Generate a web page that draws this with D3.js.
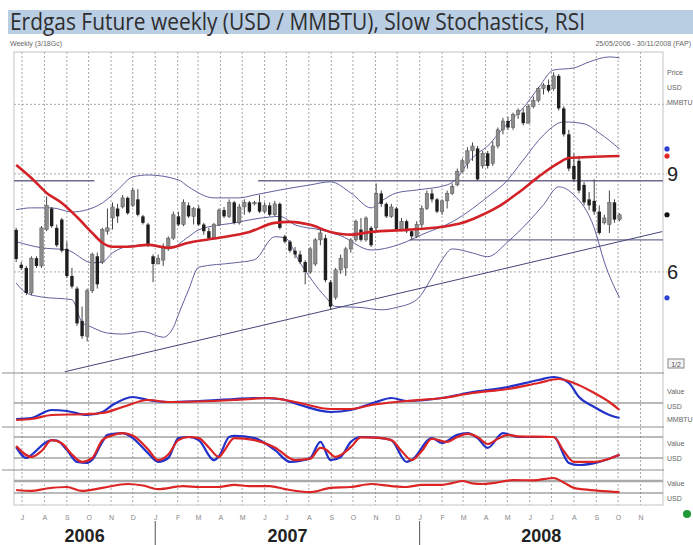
<!DOCTYPE html>
<html>
<head>
<meta charset="utf-8">
<script src="https://cdn.jsdelivr.net/npm/d3@7"></script>
<style>
  body { margin: 0; background: #fff; }
  svg { display: block; }
</style>
</head>
<body>
<div id="chart"></div>
<script>
// weekly candles, first week ending 23 Jun 2006: [open, high, low, close]
const candles = [
  [7.14,7.2,6.25,6.33],[6.18,6.25,6.05,6.1],[6.1,6.15,5.45,5.5],[5.5,6.4,5.45,6.35],[6.35,6.4,6.1,6.15],
  [6.15,7.25,6.1,7.2],[7.15,8.2,7.1,7.9],[7.8,7.85,7.2,7.25],[7.2,7.3,6.65,6.7],[7.45,7.5,6.5,6.55],
  [6.6,6.8,5.85,5.9],[5.9,6.1,5.6,5.65],[5.6,5.65,4.8,4.85],[4.9,5.2,4.55,4.6],[4.6,5.6,4.5,5.55],
  [5.55,6.5,5.5,6.45],[6.4,6.5,5.6,5.7],[6.25,7.2,6.2,7.15],[7.1,7.8,7.0,7.2],[7.5,8.0,7.15,7.85],
  [7.8,7.95,7.35,7.55],[7.85,8.25,7.8,8.15],[8.15,8.2,7.6,7.65],[7.9,8.5,7.85,8.4],[8.1,8.45,7.55,7.6],
  [7.55,7.6,7.3,7.35],[7.3,7.35,6.65,6.7],[6.4,6.45,5.75,6.2],[6.2,6.45,6.2,6.35],[6.3,6.75,6.15,6.65],
  [6.65,6.95,6.55,6.9],[6.9,7.7,6.85,7.6],[7.55,7.7,7.25,7.3],[7.3,8.1,7.25,8.0],[7.9,8.0,7.5,7.55],
  [7.55,7.85,7.3,7.8],[7.8,7.9,7.25,7.3],[7.3,7.35,7.0,7.1],[7.1,7.2,6.85,6.9],[6.9,7.35,6.85,7.3],
  [7.3,7.8,7.25,7.75],[7.75,7.85,7.5,7.55],[7.55,8.1,7.5,8.0],[8.0,8.05,7.3,7.35],[7.35,7.95,7.3,7.85],
  [7.85,8.1,7.6,8.0],[8.0,8.05,7.65,7.7],[7.95,8.05,7.9,8.0],[8.0,8.25,7.65,7.7],[7.7,8.0,7.65,7.9],
  [7.9,8.0,7.55,7.6],[7.6,8.05,7.55,7.95],[7.95,8.0,7.15,7.2],[6.95,7.0,6.75,6.8],[6.8,6.85,6.5,6.55],
  [6.55,6.65,6.35,6.45],[6.45,6.55,6.2,6.25],[6.25,6.3,5.7,6.0],[6.0,6.65,5.95,6.6],[6.2,6.9,6.15,6.85],
  [6.85,7.2,6.7,7.05],[6.9,7.0,5.75,5.8],[5.75,5.8,5.13,5.2],[5.4,6.1,5.35,6.05],[6.05,6.45,5.95,6.35],
  [6.1,6.65,5.9,6.6],[6.6,6.9,6.5,6.85],[6.85,7.45,6.8,7.4],[7.15,7.5,6.8,6.85],[6.85,7.55,6.8,7.5],
  [7.2,7.25,6.65,6.7],[7.2,8.65,7.1,8.3],[8.3,8.4,7.85,7.95],[7.95,8.0,7.5,7.55],[7.55,7.95,7.5,7.85],
  [7.8,7.85,7.1,7.15],[7.15,7.5,7.1,7.4],[7.4,7.45,7.05,7.1],[7.1,7.15,6.85,6.95],[6.95,7.4,6.9,7.3],
  [7.3,7.9,7.2,7.8],[7.8,8.4,7.75,8.3],[8.3,8.45,8.0,8.1],[8.1,8.15,7.65,7.7],[7.7,8.1,7.6,8.05],
  [8.05,8.4,7.8,8.3],[8.3,8.65,8.25,8.55],[8.6,9.2,8.55,9.1],[9.1,9.6,9.05,9.5],[9.4,10.05,9.2,9.9],
  [9.9,10.25,9.5,10.1],[10.0,10.1,8.75,8.8],[9.3,9.9,9.2,9.8],[9.8,9.9,9.2,9.3],[9.4,10.3,9.3,10.1],
  [10.1,10.9,10.0,10.8],[10.8,11.35,10.6,11.2],[11.2,11.4,10.8,10.9],[10.9,11.6,10.8,11.5],[11.5,11.8,11.3,11.7],
  [11.6,11.8,11.0,11.1],[11.1,12.0,11.1,11.9],[11.9,12.4,11.8,12.2],[12.2,12.9,12.1,12.8],[12.8,13.1,12.5,13.0],
  [13.0,13.3,12.6,12.7],[12.8,13.7,12.7,13.5],[13.5,13.6,11.7,11.8],[11.8,11.9,10.5,10.6],[10.6,10.8,9.1,9.2],
  [9.3,9.8,8.7,8.8],[9.5,9.7,8.3,8.4],[8.6,8.7,7.9,8.0],[8.1,8.35,7.75,7.9],[8.05,8.8,7.6,7.7],
  [7.7,7.9,7.0,7.05],[7.35,7.6,7.3,7.5],[7.3,8.4,7.05,8.0],[8.0,8.1,7.35,7.45],[7.45,7.65,7.4,7.6]
];

// indicator lines: [week index, value]
const bbUpper = [[0,7.76],[3,7.82],[7,7.82],[11,7.69],[14,7.76],[17,7.98],[20,8.42],[23,8.89],[26,8.96],[32,8.78],[34,8.53],[39,8.15],[44,8.15],[47,8.25],[52,8.42],[58,8.6],[62,8.71],[66,8.32],[70,7.82],[72,8.04],[75,8.32],[79,8.42],[85,8.6],[87,8.85],[89,9.4],[91,9.8],[93,10.1],[95,10.6],[97,11.1],[100,11.82],[103,12.84],[106,13.83],[110,13.95],[113,14.3],[117,14.6],[119,14.54]];
const bbMiddle = [[0,6.8],[5,6.63],[10,6.57],[15,6.23],[17,6.25],[19,6.49],[23,6.69],[26,6.71],[30,6.6],[34,6.94],[36,7.14],[43,7.35],[50,7.53],[52,7.55],[55,7.29],[60,7.14],[64,6.97],[70,6.57],[77,6.8],[80,7.0],[86,7.38],[94,8.32],[96,8.6],[100,9.53],[104,10.57],[108,11.16],[112,11.07],[115,10.66],[119,9.98]];
const bbLower = [[0,5.73],[2,5.5],[5,5.41],[11,5.35],[13,4.87],[15,4.77],[18,4.66],[21,4.64],[25,4.69],[29,4.58],[31,4.77],[32,5.03],[34,5.57],[36,6.12],[43,6.23],[47,6.31],[51,6.94],[53,6.91],[56,6.23],[61,5.41],[63,5.2],[68,5.18],[72,5.13],[75,5.18],[79,5.35],[82,5.87],[84,6.31],[86,6.6],[90,6.49],[93,6.39],[97,6.8],[101,7.38],[104,7.92],[107,8.53],[110,8.25],[114,7.2],[116,6.25],[119,5.39]];
const movAvg = [[0,9.34],[3,8.85],[6,8.32],[9,7.98],[12,7.53],[15,7.05],[17,6.77],[19,6.66],[22,6.66],[26,6.71],[30,6.63],[34,6.77],[40,6.91],[46,7.08],[51,7.35],[54,7.38],[58,7.29],[62,7.08],[66,7.0],[70,7.08],[77,7.14],[84,7.23],[88,7.35],[91,7.53],[95,7.85],[99,8.32],[103,8.89],[107,9.42],[109,9.61],[113,9.65],[119,9.69]];

const valBlue = [[0,8],[3,9],[7,17],[10,16],[14,12],[17,15],[19,22],[23,30],[26,27],[30,25],[36,26],[43,28],[47,29],[52,28],[56,22],[62,15],[66,17],[68,20],[71,25],[74,29],[77,26],[84,29],[90,35],[97,40],[103,47],[106,50],[109,44],[111,30],[114,20],[117,12],[119,9]];
const valRed = [[0,7],[3,8],[7,12],[14,13],[17,14],[21,20],[26,27],[30,25],[43,27],[50,29],[53,27],[56,24],[62,18],[66,18],[70,22],[77,26],[84,29],[90,34],[97,38],[103,44],[107,48],[110,44],[114,34],[117,25],[119,17]];

const stochK = [[0,51],[2,20],[3,29],[6,66],[7,71],[8,70],[10,43],[12,9],[14,6],[15,15],[17,66],[18,86],[21,91],[23,77],[26,34],[28,9],[30,20],[32,77],[34,80],[36,71],[39,14],[40,25],[42,80],[43,83],[47,77],[51,43],[54,9],[56,12],[58,20],[60,66],[62,14],[64,23],[66,66],[68,80],[72,77],[74,71],[77,9],[78,14],[82,77],[84,63],[87,86],[89,91],[91,77],[93,49],[96,91],[99,80],[106,80],[109,6],[111,0],[115,9],[119,29]];
const stochD = [[0,54],[3,23],[5,40],[7,71],[9,62],[11,30],[13,9],[15,20],[17,71],[19,85],[21,91],[23,84],[26,45],[28,14],[30,30],[32,71],[34,80],[36,77],[38,50],[40,23],[41,40],[43,77],[47,71],[51,50],[55,14],[58,18],[60,49],[61,45],[63,23],[66,51],[68,79],[71,78],[74,71],[76,40],[78,14],[80,40],[82,75],[85,66],[87,80],[89,89],[91,80],[93,60],[95,75],[97,86],[99,82],[106,80],[108,40],[110,9],[114,9],[117,18],[119,29]];

const rsi = [[0,40],[3,37],[6,45],[10,50],[13,37],[17,47],[22,60],[25,55],[28,43],[33,53],[36,50],[40,50],[43,57],[46,53],[50,53],[53,43],[58,33],[62,47],[66,50],[70,60],[74,53],[77,50],[80,57],[84,57],[86,63],[88,70],[90,62],[92,60],[94,63],[98,73],[102,72],[106,80],[108,65],[110,47],[112,42],[115,37],[119,33]];

// trend line and horizontal levels
const trendLine = [["2006-08-29", 3.97], ["2008-12-01", 7.09]];
const levels = [
  {from: "2006-06-20", to: "2006-10-09", price: 8.75},
  {from: "2007-05-23", to: "2008-12-02", price: 8.75},
  {from: "2007-12-18", to: "2008-12-02", price: 6.85}
];
const priceTicks = [6, 9];
const priceGrid = [6, 9, 12];
const monthLetters = ["J","A","S","O","N","D","J","F","M","A","M","J","J","A","S","O","N","D","J","F","M","A","M","J","J","A","S","O","N"];
const years = [2006, 2007, 2008];

const W = 693, H = 545;
const svg = d3.select("#chart").append("svg").attr("width", W).attr("height", H)
  .style("font-family", "'Liberation Sans', Arial, sans-serif");

const parse = d3.timeParse("%Y-%m-%d");
const start = new Date(2006, 5, 20), end = new Date(2008, 11, 2);
const x = d3.scaleTime().domain([start, end]).range([14, 663]);
const weekDate = i => new Date(2006, 5, 23 + 7 * i);
const y = d3.scaleLog().domain([3.95, 14.9]).range([373, 52]);
const y2 = d3.scaleLinear().domain([0, 54]).range([427, 373]);
const y3 = d3.scaleLinear().domain([0, 100]).range([465, 430]);
const y4 = d3.scaleLinear().domain([0, 100]).range([502, 472]);

// title bar
svg.append("rect").attr("x", 8).attr("y", 10).attr("width", 685).attr("height", 24).attr("fill", "#b9cde3");
svg.append("text").attr("x", 10).attr("y", 30).attr("font-family", "'Open Sans', sans-serif")
  .attr("font-size", 23).attr("fill", "#2e2e2e").attr("textLength", 575).attr("lengthAdjust", "spacingAndGlyphs")
  .text("Erdgas Future weekly (USD / MMBTU), Slow Stochastics, RSI");
svg.append("text").attr("x", 10).attr("y", 46).attr("font-size", 7).attr("fill", "#666").text("Weekly (3/18Gc)");
svg.append("text").attr("x", 691).attr("y", 46).attr("font-size", 7).attr("fill", "#666")
  .attr("text-anchor", "end").text("25/05/2006 - 30/11/2008 (FAP)");

// grid
const months = d3.timeMonth.range(new Date(2006, 6, 1), new Date(2008, 11, 1));
svg.append("g").selectAll("line").data(months).join("line")
  .attr("x1", d => x(d)).attr("x2", d => x(d)).attr("y1", 52).attr("y2", 505)
  .attr("stroke", "#a8a8a8").attr("stroke-dasharray", "2,2");
svg.append("g").selectAll("line").data(priceGrid).join("line")
  .attr("x1", 14).attr("x2", 667).attr("y1", d => y(d)).attr("y2", d => y(d))
  .attr("stroke", "#a8a8a8").attr("stroke-dasharray", "2,2");

// panel frame and separators
svg.append("rect").attr("x", 14).attr("y", 52).attr("width", 649).attr("height", 453)
  .attr("fill", "none").attr("stroke", "#c4c4c4");
[y(y.domain()[0]), y2(0), y3(0) + 5].forEach(v => {
  svg.append("line").attr("x1", 2).attr("x2", 664).attr("y1", v).attr("y2", v).attr("stroke", "#8e8e8e");
});
const refLines = [[y2, 24], [y3, 80], [y3, 20], [y4, 70], [y4, 30]];
refLines.forEach(([s, v], i) => {
  svg.append("line").attr("x1", 14).attr("x2", 663).attr("y1", s(v)).attr("y2", s(v))
    .attr("stroke", i === 3 ? "#aaa" : "#777").attr("stroke-width", i === 3 ? 2.5 : 1);
});

// main price panel
svg.append("clipPath").attr("id", "clipMain").append("rect")
  .attr("x", 14).attr("y", 52).attr("width", 649).attr("height", 321);
const main = svg.append("g").attr("clip-path", "url(#clipMain)");

main.selectAll(".lvl").data(levels).join("line")
  .attr("x1", d => x(parse(d.from))).attr("x2", d => x(parse(d.to)))
  .attr("y1", d => y(d.price)).attr("y2", d => y(d.price))
  .attr("stroke", "#6c6c8c").attr("stroke-width", 1.4);

const priceLine = d3.line().x(d => x(weekDate(d[0]))).y(d => y(d[1])).curve(d3.curveMonotoneX);
[bbUpper, bbMiddle, bbLower].forEach(s => {
  main.append("path").attr("d", priceLine(s)).attr("fill", "none")
    .attr("stroke", "#60609e").attr("stroke-width", 1);
});
main.append("path").attr("d", d3.line().x(d => x(parse(d[0]))).y(d => y(d[1]))(trendLine))
  .attr("fill", "none").attr("stroke", "#45457a").attr("stroke-width", 1);

const bw = 3.4;
const cg = main.append("g");
cg.selectAll(".wick").data(candles).join("line")
  .attr("x1", (d, i) => x(weekDate(i))).attr("x2", (d, i) => x(weekDate(i)))
  .attr("y1", d => y(d[1])).attr("y2", d => y(d[2]))
  .attr("stroke", "#444").attr("stroke-width", 1);
cg.selectAll(".body").data(candles).join("rect")
  .attr("x", (d, i) => x(weekDate(i)) - bw / 2).attr("width", bw)
  .attr("y", d => y(Math.max(d[0], d[3])))
  .attr("height", d => Math.max(1.2, Math.abs(y(d[0]) - y(d[3]))))
  .attr("fill", d => d[3] >= d[0] ? "#8c8c8c" : "#1e1e1e")
  .attr("stroke", d => d[3] >= d[0] ? "#555" : "none").attr("stroke-width", 0.5);

main.append("path").attr("d", priceLine(movAvg)).attr("fill", "none")
  .attr("stroke", "#d22228").attr("stroke-width", 2.6);

// right side price labels
svg.append("g").attr("transform", "translate(666,0)")
  .call(d3.axisRight(y).tickValues(priceTicks).tickSize(0).tickFormat(d3.format("d")))
  .call(g => g.select(".domain").remove())
  .call(g => g.selectAll("text").attr("font-size", 20).attr("fill", "#222").attr("x", 1)
    .attr("font-family", "'Liberation Sans', Arial, sans-serif"));
["Price", "USD", "MMBTU"].forEach((t, i) => {
  svg.append("text").attr("x", 667).attr("y", 75 + i * 15).attr("font-size", 7).attr("fill", "#666").text(t);
});
const last = a => a[a.length - 1][1];
const markers = [
  [last(bbMiddle), "#2c3fd6"], [last(movAvg), "#e0262a"],
  [candles[candles.length - 1][3], "#111"], [last(bbLower), "#2c3fd6"]
];
svg.append("g").selectAll("circle").data(markers).join("circle")
  .attr("cx", 667).attr("cy", d => y(d[0])).attr("r", 2.6).attr("fill", d => d[1]);
svg.append("rect").attr("x", 668).attr("y", 359).attr("width", 16).attr("height", 9)
  .attr("fill", "#f4f4f4").attr("stroke", "#888");
svg.append("text").attr("x", 676).attr("y", 366.5).attr("text-anchor", "middle")
  .attr("font-size", 7).attr("fill", "#555").text("1/2");

// lower panels
const lineOf = s => d3.line().x(d => x(weekDate(d[0]))).y(d => s(d[1])).curve(d3.curveMonotoneX);
const sub = [
  [y2, valBlue, "#2231c8"], [y2, valRed, "#dc2424"],
  [y3, stochK, "#2231c8"], [y3, stochD, "#dc2424"],
  [y4, rsi, "#dc2424"]
];
sub.forEach(([s, data, c]) => {
  svg.append("path").attr("d", lineOf(s)(data)).attr("fill", "none")
    .attr("stroke", c).attr("stroke-width", 2.2).attr("stroke-linejoin", "round");
});
const subLabels = [["Value", 394], ["USD", 409], ["MMBTU", 422], ["Value", 446], ["USD", 461], ["Value", 486], ["USD", 501]];
subLabels.forEach(([t, yy]) => {
  svg.append("text").attr("x", 667).attr("y", yy).attr("font-size", 7).attr("fill", "#666").text(t);
});

// time axis
svg.append("g").attr("transform", "translate(0,512)")
  .call(d3.axisBottom(x).tickValues(months).tickSize(0).tickFormat((d, i) => monthLetters[i]))
  .call(g => g.select(".domain").remove())
  .call(g => g.selectAll("text").attr("font-size", 7).attr("fill", "#888"));
svg.append("g").selectAll("line").data(years.slice(1)).join("line")
  .attr("x1", d => x(new Date(d, 0, 1))).attr("x2", d => x(new Date(d, 0, 1)))
  .attr("y1", 521).attr("y2", 545).attr("stroke", "#555");
svg.append("g").selectAll("text").data(years).join("text")
  .attr("x", d => (x(d3.max([start, new Date(d, 0, 1)])) + x(d3.min([end, new Date(d + 1, 0, 1)]))) / 2)
  .attr("y", 542).attr("text-anchor", "middle").attr("font-size", 18).attr("font-weight", "bold")
  .attr("fill", "#222").text(d => d);
svg.append("circle").attr("cx", 687).attr("cy", 514).attr("r", 4).attr("fill", "#1f9a34");
</script>
</body>
</html>
